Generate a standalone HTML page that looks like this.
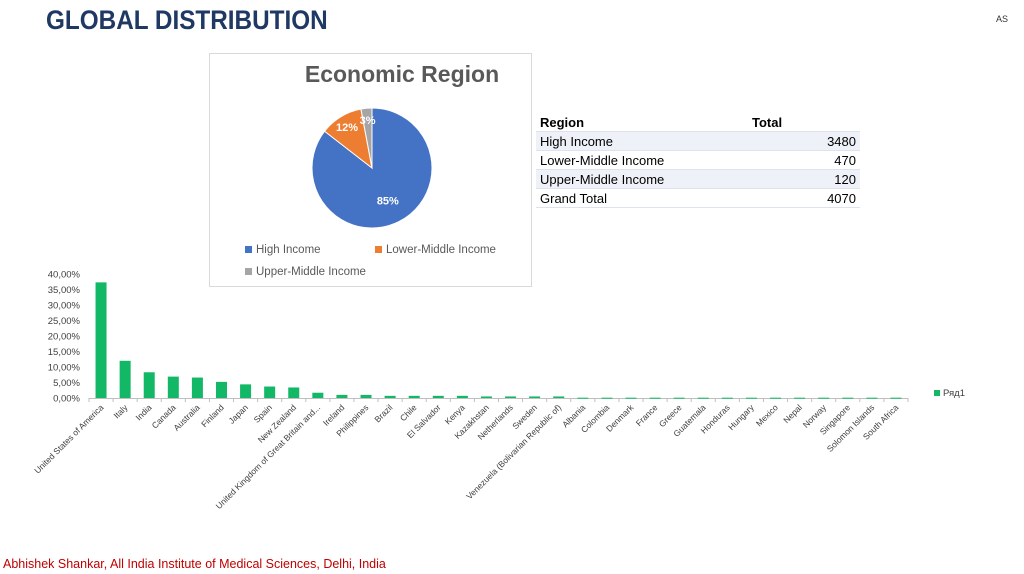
<!DOCTYPE html>
<html><head><meta charset="utf-8"><style>
body{margin:0;width:1024px;height:574px;background:#fff;position:relative;overflow:hidden;font-family:"Liberation Sans",sans-serif}
.title{position:absolute;left:46px;top:5px;font-size:27px;font-weight:bold;color:#1f3864;transform:scaleX(0.9);transform-origin:0 0}
.as{position:absolute;left:996px;top:14px;font-size:9px;color:#333}
.foot{position:absolute;left:3px;top:557px;font-size:12.5px;color:#c00000}
table{position:absolute;left:536px;top:113px;border-collapse:collapse;font-size:13px;color:#000}
td{height:18px;padding:0 4px;border-bottom:1px solid #dde3ee}
tr:nth-child(even) td{background:#eef2f8}
</style></head><body>
<div class="title">GLOBAL DISTRIBUTION</div>
<div class="as">AS</div>
<div class="foot">Abhishek Shankar, All India Institute of Medical Sciences, Delhi, India</div>
<table>
<tr style="font-weight:bold"><td style="width:204px">Region</td><td style="width:104px">Total</td></tr>
<tr><td>High Income</td><td style="text-align:right">3480</td></tr>
<tr><td>Lower-Middle Income</td><td style="text-align:right">470</td></tr>
<tr><td>Upper-Middle Income</td><td style="text-align:right">120</td></tr>
<tr><td>Grand Total</td><td style="text-align:right">4070</td></tr>
</table>
<svg id="pie" style="position:absolute;left:0;top:0" width="1024" height="574"></svg>
<script>
const pieLabels=["High Income","Lower-Middle Income","Upper-Middle Income"];
const pieValues=[3480,470,120];
const piePct=["85%","12%","3%"];
const pieColors=["#4472c4","#ed7d31","#a5a5a5"];
const countries=["United States of America","Italy","India","Canada","Australia","Finland","Japan","Spain","New Zealand","United Kingdom of Great Britain and...","Ireland","Philippines","Brazil","Chile","El Salvador","Kenya","Kazakhstan","Netherlands","Sweden","Venezuela (Bolivarian Republic of)","Albania","Colombia","Denmark","France","Greece","Guatemala","Honduras","Hungary","Mexico","Nepal","Norway","Singapore","Solomon Islands","South Africa"];
const shares=[37.3,12,8.3,6.9,6.6,5.2,4.4,3.7,3.4,1.7,1.0,1.0,0.7,0.7,0.7,0.7,0.5,0.5,0.5,0.5,0.1,0.1,0.1,0.1,0.1,0.1,0.1,0.1,0.1,0.1,0.1,0.1,0.1,0.1];
const yTicks=[0,5,10,15,20,25,30,35,40];
const NS="http://www.w3.org/2000/svg";
const svg=document.getElementById('pie');
function mk(t,a,p){const e=document.createElementNS(NS,t);for(const k in a)e.setAttribute(k,a[k]);(p||svg).appendChild(e);return e;}
let fr=mk('rect',{x:209.5,y:53.5,width:322,height:233,fill:'#fff',stroke:'#d9d9d9'});


let pt=mk('text',{x:402,y:82,'text-anchor':'middle','font-size':23,'font-weight':'bold',fill:'#595959'});pt.textContent='Economic Region';


const cx=372,cy=168,r=60,tot=pieValues.reduce((a,b)=>a+b,0);
let a0=0;
pieValues.forEach((v,i)=>{
 const a1=a0+v/tot*2*Math.PI;
 const x0=cx+r*Math.sin(a0),y0=cy-r*Math.cos(a0),x1=cx+r*Math.sin(a1),y1=cy-r*Math.cos(a1);
 const s=mk('path',{d:`M${cx},${cy}L${x0},${y0}A${r},${r} 0 ${a1-a0>Math.PI?1:0} 1 ${x1},${y1}Z`,fill:pieColors[i],stroke:'#fff','stroke-width':1});
 
 
 const am=(a0+a1)/2, lr=i==0?r*0.6:r*0.8;
 const t=mk('text',{x:cx+lr*Math.sin(am),y:cy-lr*Math.cos(am)+4,'text-anchor':'middle','font-size':11,'font-weight':'bold',fill:'#fff'});
 t.textContent=piePct[i];
 
 
 a0=a1;
});
const lpos=[[245,253],[375,253],[245,275]];
pieLabels.forEach((l,i)=>{
 const g=mk('g',{});
 
 
 mk('rect',{x:lpos[i][0],y:lpos[i][1]-7,width:7,height:7,fill:pieColors[i]},g);
 const t=mk('text',{x:lpos[i][0]+11,y:lpos[i][1],'font-size':11.5,fill:'#595959'},g);t.textContent=l;
});
const X0=89,X1=908,Y0=398,Y1=274,yMax=40;
const y=v=>Y0-(v/yMax)*(Y0-Y1);
const bw=(X1-X0)/countries.length;
const x=i=>X0+bw*(i+0.5);
yTicks.forEach(t=>{
 const e=mk('text',{x:80,y:y(t)+3.5,'text-anchor':'end','font-size':9.5,fill:'#404040'});
 e.textContent=t.toFixed(2).replace('.',',')+'%';
 
 
});
mk('line',{x1:X0,y1:Y0+0.5,x2:X1,y2:Y0+0.5,stroke:'#bfbfbf'});
shares.forEach((v,i)=>{
 mk('line',{x1:X0+bw*i,y1:Y0,x2:X0+bw*i,y2:Y0+4,stroke:'#bfbfbf'});
 const b=mk('rect',{x:x(i)-5.5,y:y(v),width:11,height:Math.max(Y0-y(v),1),fill:'#12b866'});
 
 
 const t=mk('text',{x:x(i)+3,y:Y0+10,'text-anchor':'end','font-size':8.5,fill:'#404040',transform:`rotate(-45 ${x(i)+3} ${Y0+10})`});
 t.textContent=countries[i];
 
 
});
mk('line',{x1:X1,y1:Y0,x2:X1,y2:Y0+4,stroke:'#bfbfbf'});
const lg=mk('g',{});


mk('rect',{x:934,y:390,width:6,height:6,fill:'#12b866'},lg);
const lt=mk('text',{x:943,y:396,'font-size':9.5,fill:'#404040'},lg);lt.textContent='Ряд1';
</script>
</body></html>
